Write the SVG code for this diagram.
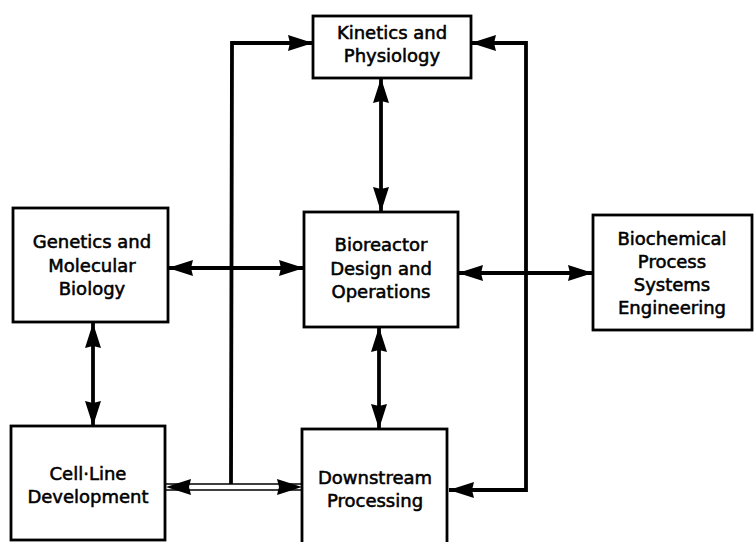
<svg xmlns="http://www.w3.org/2000/svg" width="755" height="542" viewBox="0 0 755 542">
<style>
.box{fill:#fff;stroke:#000;stroke-width:2.8}
.t{font-family:"DejaVu Sans","Liberation Sans",sans-serif;font-size:18px;fill:#000;stroke:#000;stroke-width:0.55;text-anchor:middle}
.c{fill:none;stroke:#000;stroke-width:3.8}
.c2{fill:none;stroke:#000;stroke-width:1.7}
.d{marker-start:url(#ah);marker-end:url(#ah)}
.e{marker-end:url(#ah)}
</style>
<defs>
<marker id="ah" viewBox="0 0 25 18" refX="25" refY="9" markerWidth="25" markerHeight="18" markerUnits="userSpaceOnUse" orient="auto-start-reverse">
<path d="M0,1 L25,9 L0,17 L2,9 z" fill="#000"/>
</marker>
</defs>
<rect width="755" height="542" fill="#fff"/>
<g id="connectors">
<path class="c e" d="M231,484 L232,43 L313,43"/>
<path class="c d" d="M471,43 L526,43 L526,490 L449,490"/>
<path class="c d" d="M168,268 L304,268"/>
<path class="c d" d="M458,273 L593,273"/>
<path class="c d" d="M381,78 L381,212"/>
<path class="c d" d="M379,327 L379,429"/>
<path class="c d" d="M93,323 L93,426"/>
<path class="c2" d="M166,484 L301,484 M166,490 L301,490"/>
<path class="c2 d" d="M166,487 L302,487" stroke-opacity="0"/>
</g>
<g id="kinetics">
<rect class="box" x="313" y="16" width="158" height="62"/>
<text class="t" x="392" y="39">Kinetics and</text>
<text class="t" x="392" y="62">Physiology</text>
</g>
<g id="genetics">
<rect class="box" x="13" y="208" width="155" height="114"/>
<text class="t" x="92" y="248">Genetics and</text>
<text class="t" x="92" y="272">Molecular</text>
<text class="t" x="92" y="295">Biology</text>
</g>
<g id="bioreactor">
<rect class="box" x="304" y="212" width="154" height="115"/>
<text class="t" x="381" y="251">Bioreactor</text>
<text class="t" x="381" y="275">Design and</text>
<text class="t" x="381" y="298">Operations</text>
</g>
<g id="biochemical">
<rect class="box" x="593" y="215" width="159" height="115"/>
<text class="t" x="672" y="245">Biochemical</text>
<text class="t" x="672" y="268">Process</text>
<text class="t" x="672" y="291">Systems</text>
<text class="t" x="672" y="314">Engineering</text>
</g>
<g id="cellline">
<rect class="box" x="11" y="426" width="154" height="114"/>
<text class="t" x="88" y="480">Cell·Line</text>
<text class="t" x="88" y="503">Development</text>
</g>
<g id="downstream">
<rect class="box" x="302" y="429" width="145" height="118"/>
<text class="t" x="375" y="484">Downstream</text>
<text class="t" x="375" y="507">Processing</text>
</g>
</svg>
